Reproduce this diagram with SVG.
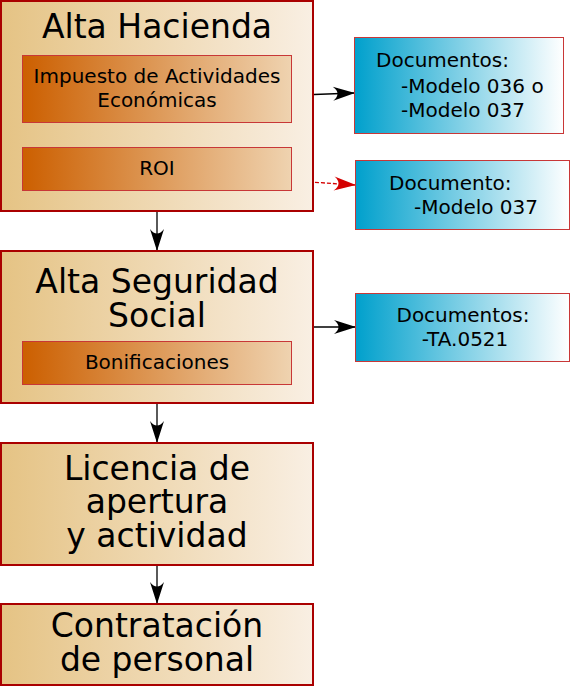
<svg xmlns="http://www.w3.org/2000/svg" width="570" height="686" viewBox="0 0 570 686">
<defs>
<linearGradient id="gMain" x1="0" y1="0" x2="1" y2="0">
<stop offset="0" stop-color="#e5c384"/>
<stop offset="1" stop-color="#f9efe3"/>
</linearGradient>
<linearGradient id="gInner" x1="0" y1="0" x2="1" y2="0">
<stop offset="0" stop-color="#cc5f00"/>
<stop offset="1" stop-color="#efd3b0"/>
</linearGradient>
<linearGradient id="gBlue" x1="0" y1="0" x2="1" y2="0">
<stop offset="0" stop-color="#00a0cc"/>
<stop offset="1" stop-color="#ffffff"/>
</linearGradient>
<marker id="arrB" viewBox="-23 -8 25 16" refX="0" refY="0" markerWidth="25" markerHeight="16" markerUnits="userSpaceOnUse" orient="auto">
<path d="M1,0 L-21,-7 C-15,-2.5 -15,2.5 -21,7 z" fill="#000"/>
</marker>
<marker id="arrR" viewBox="-23 -8 25 16" refX="0" refY="0" markerWidth="25" markerHeight="16" markerUnits="userSpaceOnUse" orient="auto">
<path d="M1,0 L-21,-7 C-15,-2.5 -15,2.5 -21,7 z" fill="#d40000"/>
</marker>
</defs>
<style>
.main{fill:url(#gMain);stroke:#aa0000;stroke-width:2}
.inner{fill:url(#gInner);stroke:#c83737;stroke-width:1}
.doc{fill:url(#gBlue);stroke:#c83737;stroke-width:1}
text{font-family:"DejaVu Sans","Liberation Sans",sans-serif;fill:#000}
.big{font-size:33px;text-anchor:middle}
.mid{font-size:20px;text-anchor:middle}
.d20{font-size:20px}
.con{stroke:#000;stroke-width:1.3;fill:none}
.conr{stroke:#d40000;stroke-width:1.3;fill:none;stroke-dasharray:4,2}
</style>
<g id="connectors">
<path class="con" d="M157,212 V250" marker-end="url(#arrB)"/>
<path class="con" d="M157,404 V442" marker-end="url(#arrB)"/>
<path class="con" d="M157,566 V603" marker-end="url(#arrB)"/>
<path class="con" d="M314,94.5 L354,93" marker-end="url(#arrB)"/>
<path class="conr" d="M291,180.7 L355,185" marker-end="url(#arrR)"/>
<path class="con" d="M314,327 L355,327" marker-end="url(#arrB)"/>
</g>
<g id="alta-hacienda">
<rect class="main" x="1" y="1" width="312" height="210"/>
<text class="big" x="157" y="38">Alta Hacienda</text>
</g>
<g id="iae">
<rect class="inner" x="22.5" y="55.5" width="269" height="67"/>
<text class="mid" x="157" y="83">Impuesto de Actividades</text>
<text class="mid" x="157" y="107">Económicas</text>
</g>
<g id="roi">
<rect class="inner" x="22.5" y="147.5" width="269" height="43"/>
<text class="mid" x="157" y="175">ROI</text>
</g>
<g id="alta-ss">
<rect class="main" x="1" y="251" width="312" height="152"/>
<text class="big" x="157" y="293">Alta Seguridad</text>
<text class="big" x="157" y="327">Social</text>
</g>
<g id="bonificaciones">
<rect class="inner" x="22.5" y="341.5" width="269" height="43"/>
<text class="mid" x="157" y="369">Bonificaciones</text>
</g>
<g id="licencia">
<rect class="main" x="1" y="443" width="312" height="122"/>
<text class="big" x="157" y="480">Licencia de</text>
<text class="big" x="157" y="513">apertura</text>
<text class="big" x="157" y="547">y actividad</text>
</g>
<g id="contratacion">
<rect class="main" x="1" y="604" width="312" height="81"/>
<text class="big" x="157" y="637">Contratación</text>
<text class="big" x="157" y="671">de personal</text>
</g>
<g id="doc-hacienda">
<rect class="doc" x="354.5" y="37.5" width="209" height="96"/>
<text class="d20" x="376" y="67">Documentos:</text>
<text class="d20" x="401" y="93">-Modelo 036 o</text>
<text class="d20" x="401" y="117">-Modelo 037</text>
</g>
<g id="doc-roi">
<rect class="doc" x="355.5" y="160.5" width="214" height="69"/>
<text class="d20" x="389" y="190">Documento:</text>
<text class="d20" x="414" y="214">-Modelo 037</text>
</g>
<g id="doc-ss">
<rect class="doc" x="355.5" y="293.5" width="214" height="68"/>
<text class="mid" x="463" y="322">Documentos:</text>
<text class="mid" x="465" y="346">-TA.0521</text>
</g>
</svg>
